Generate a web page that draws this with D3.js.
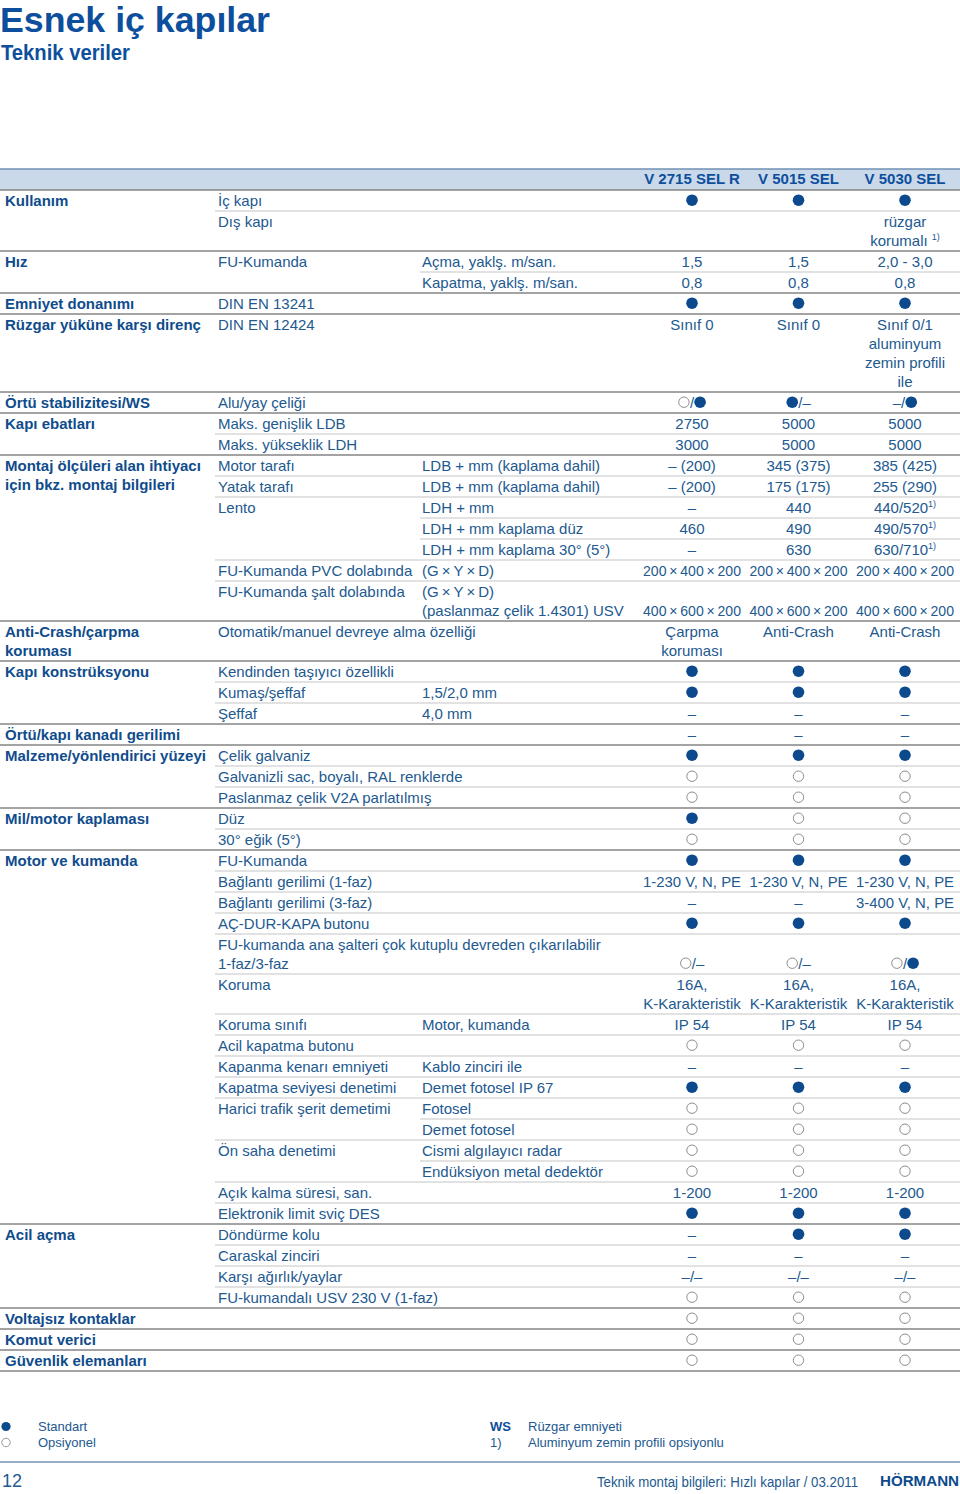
<!DOCTYPE html>
<html>
<head>
<meta charset="utf-8">
<script src="https://cdn.jsdelivr.net/npm/d3@7"></script>
<style>
body{margin:0;background:#fff}
svg{display:block}
</style>
</head>
<body>
<div id="chart"></div>
<script>
// table content, one entry per row
var models = ["V 2715 SEL R", "V 5015 SEL", "V 5030 SEL"];

var groups = [
"Kullanım", "", "Hız", "", "Emniyet donanımı", "Rüzgar yüküne karşı direnç",
"Örtü stabilizitesi/WS", "Kapı ebatları", "",
"Montaj ölçüleri alan ihtiyacı\niçin bkz. montaj bilgileri", "", "", "", "", "", "",
"Anti-Crash/çarpma\nkoruması", "Kapı konstrüksyonu", "", "", "Örtü/kapı kanadı gerilimi",
"Malzeme/yönlendirici yüzeyi", "", "", "Mil/motor kaplaması", "",
"Motor ve kumanda", "", "", "", "", "", "", "", "", "", "", "", "", "", "", "",
"Acil açma", "", "", "", "Voltajsız kontaklar", "Komut verici", "Güvenlik elemanları"];

var items = [
"İç kapı", "Dış kapı", "FU-Kumanda", "", "DIN EN 13241", "DIN EN 12424",
"Alu/yay çeliği", "Maks. genişlik LDB", "Maks. yükseklik LDH",
"Motor tarafı", "Yatak tarafı", "Lento", "", "", "FU-Kumanda PVC dolabında", "FU-Kumanda şalt dolabında",
"Otomatik/manuel devreye alma özelliği", "Kendinden taşıyıcı özellikli", "Kumaş/şeffaf", "Şeffaf", "",
"Çelik galvaniz", "Galvanizli sac, boyalı, RAL renklerde", "Paslanmaz çelik V2A parlatılmış", "Düz", "30° eğik (5°)",
"FU-Kumanda", "Bağlantı gerilimi (1-faz)", "Bağlantı gerilimi (3-faz)", "AÇ-DUR-KAPA butonu",
"FU-kumanda ana şalteri çok kutuplu devreden çıkarılabilir\n1-faz/3-faz", "Koruma", "Koruma sınıfı",
"Acil kapatma butonu", "Kapanma kenarı emniyeti", "Kapatma seviyesi denetimi", "Harici trafik şerit demetimi", "",
"Ön saha denetimi", "", "Açık kalma süresi, san.", "Elektronik limit sviç DES",
"Döndürme kolu", "Caraskal zinciri", "Karşı ağırlık/yaylar", "FU-kumandalı USV 230 V (1-faz)", "", "", ""];

var details = [
"", "", "Açma, yaklş. m/san.", "Kapatma, yaklş. m/san.", "", "",
"", "", "",
"LDB + mm (kaplama dahil)", "LDB + mm (kaplama dahil)", "LDH + mm", "LDH + mm kaplama düz", "LDH + mm kaplama 30° (5°)",
"(G\u2009×\u2009Y\u2009×\u2009D)", "(G\u2009×\u2009Y\u2009×\u2009D)\n(paslanmaz çelik 1.4301) USV",
"", "", "1,5/2,0 mm", "4,0 mm", "",
"", "", "", "", "",
"", "", "", "", "", "", "Motor, kumanda",
"", "Kablo zinciri ile", "Demet fotosel IP 67", "Fotosel", "Demet fotosel",
"Cismi algılayıcı radar", "Endüksiyon metal dedektör", "", "",
"", "", "", "", "", "", ""];

var v2715 = [
"●", "", "1,5", "0,8", "●", "Sınıf 0", "○/●", "2750", "3000",
"– (200)", "– (200)", "–", "460", "–", "200\u2009×\u2009400\u2009×\u2009200", "\n400\u2009×\u2009600\u2009×\u2009200",
"Çarpma\nkoruması", "●", "●", "–", "–", "●", "○", "○", "●", "○",
"●", "1-230 V, N, PE", "–", "●", "\n○/–", "16A,\nK-Karakteristik", "IP 54",
"○", "–", "●", "○", "○", "○", "○", "1-200", "●",
"–", "–", "–/–", "○", "○", "○", "○"];

var v5015 = [
"●", "", "1,5", "0,8", "●", "Sınıf 0", "●/–", "5000", "5000",
"345 (375)", "175 (175)", "440", "490", "630", "200\u2009×\u2009400\u2009×\u2009200", "\n400\u2009×\u2009600\u2009×\u2009200",
"Anti-Crash", "●", "●", "–", "–", "●", "○", "○", "○", "○",
"●", "1-230 V, N, PE", "–", "●", "\n○/–", "16A,\nK-Karakteristik", "IP 54",
"○", "–", "●", "○", "○", "○", "○", "1-200", "●",
"●", "–", "–/–", "○", "○", "○", "○"];

var v5030 = [
"●", "rüzgar\nkorumalı ^1)", "2,0 - 3,0", "0,8", "●", "Sınıf 0/1\naluminyum\nzemin profili\nile", "–/●", "5000", "5000",
"385 (425)", "255 (290)", "440/520^1)", "490/570^1)", "630/710^1)", "200\u2009×\u2009400\u2009×\u2009200", "\n400\u2009×\u2009600\u2009×\u2009200",
"Anti-Crash", "●", "●", "–", "–", "●", "○", "○", "○", "○",
"●", "1-230 V, N, PE", "3-400 V, N, PE", "●", "\n○/●", "16A,\nK-Karakteristik", "IP 54",
"○", "–", "●", "○", "○", "○", "○", "1-200", "●",
"●", "–", "–/–", "○", "○", "○", "○"];

var legendKeys = ["●", "○"];
var legendLabels = ["Standart", "Opsiyonel"];
var noteKeys = ["WS", "1)"];
var noteLabels = ["Rüzgar emniyeti", "Aluminyum zemin profili opsiyonlu"];

var width = 960, height = 1494;
var blue = "#0d4f9c", textBlue = "#22598f", dotBlue = "#0c4a8d";
var font = "'Liberation Sans', Arial, Helvetica, sans-serif";

var svg = d3.select("#chart").append("svg")
    .attr("width", width).attr("height", height)
    .style("font-family", font);

// title
svg.append("text").attr("x", 0).attr("y", 32)
   .attr("font-size", 35).attr("font-weight", "bold").attr("fill", blue)
   .attr("textLength", 270).attr("lengthAdjust", "spacingAndGlyphs")
   .text("Esnek iç kapılar");
svg.append("text").attr("x", 1).attr("y", 60)
   .attr("font-size", 22).attr("font-weight", "bold").attr("fill", blue)
   .attr("textLength", 129).attr("lengthAdjust", "spacingAndGlyphs")
   .text("Teknik veriler");

var rows = groups.map(function(g, i){
    return {group: g, item: items[i], detail: details[i], vals: [v2715[i], v5015[i], v5030[i]]};
});
rows.forEach(function(r){
    r.n = d3.max([r.item, r.detail].concat(r.vals), function(s){ return s.split("\n").length; });
    r.h = 21 + 19 * (r.n - 1);
});
var acc = 0;
rows.forEach(function(r){ r.y0 = acc; acc += r.h; });

var y = d3.scaleLinear().domain([0, acc]).range([190, 1371]);
var colX = d3.scaleOrdinal().domain(["group", "item", "detail"]).range([5, 218, 422]);
var valX = d3.scalePoint().domain(models).range([692, 905]);

// header band
svg.append("rect").attr("x", 0).attr("y", 169).attr("width", width).attr("height", y(0) - 169)
   .attr("fill", "#c9d9ea");
svg.append("line").attr("x1", 0).attr("x2", width).attr("y1", 169).attr("y2", 169)
   .attr("stroke", "#6f8fb3").attr("stroke-width", 1.5);
svg.selectAll(".model").data(models).enter().append("text")
   .attr("x", function(d){ return valX(d); }).attr("y", 184)
   .attr("text-anchor", "middle").attr("font-size", 15).attr("font-weight", "bold")
   .attr("fill", blue).text(function(d){ return d; });

// separators
var grid = svg.append("g");
rows.forEach(function(r, i){
    var yy = y(r.y0);
    var major = r.group || i === 0;
    var x0 = major ? 0 : (r.item ? 215 : 420);
    grid.append("line").attr("x1", x0).attr("x2", width).attr("y1", yy).attr("y2", yy)
        .attr("stroke", major ? "#858585" : "#c6c6c6").attr("stroke-width", major ? 1.6 : 1.2);
});
grid.append("line").attr("x1", 0).attr("x2", width).attr("y1", y(acc)).attr("y2", y(acc))
    .attr("stroke", "#858585").attr("stroke-width", 1.6);

function drawLine(sel, line, x, base, anchor, bold, maxW){
    if (!line) return;
    if (/[●○]/.test(line)) {
        var g = sel.append("g");
        var cx = 0;
        Array.from(line).forEach(function(ch){
            if (ch === "●") {
                g.append("circle").attr("cx", cx + 6).attr("cy", base - 5.3).attr("r", 5.8).attr("fill", dotBlue);
                cx += 12;
            } else if (ch === "○") {
                g.append("circle").attr("cx", cx + 6).attr("cy", base - 5.3).attr("r", 5.2)
                 .attr("fill", "none").attr("stroke", "#8e8e8e").attr("stroke-width", 1);
                cx += 12;
            } else {
                var t = g.append("text").attr("x", cx).attr("y", base).attr("font-size", 15)
                         .attr("fill", textBlue).text(ch);
                cx += t.node().getComputedTextLength();
            }
        });
        g.attr("transform", "translate(" + (anchor === "middle" ? x - cx / 2 : x) + ",0)");
        return;
    }
    var parts = line.split("^");
    var t = sel.append("text").attr("x", x).attr("y", base).attr("text-anchor", anchor)
        .attr("font-size", 15).attr("font-weight", bold ? "bold" : "normal")
        .attr("fill", bold ? "#0f4c8c" : textBlue);
    t.append("tspan").text(parts[0]);
    if (parts[1]) t.append("tspan").attr("font-size", 9).attr("dy", -6).text(parts[1]);
    if (maxW && t.node().getComputedTextLength() > maxW) {
        t.attr("textLength", maxW).attr("lengthAdjust", "spacingAndGlyphs");
    }
}

function drawCell(sel, str, x, top, anchor, bold, maxW){
    str.split("\n").forEach(function(line, k){
        drawLine(sel, line, x, top + 15.5 + 19 * k, anchor, bold, maxW);
    });
}

var body = svg.append("g");
rows.forEach(function(r){
    var top = y(r.y0);
    drawCell(body, r.group, colX("group"), top, "start", true);
    drawCell(body, r.item, colX("item"), top, "start", false);
    drawCell(body, r.detail, colX("detail"), top, "start", false);
    r.vals.forEach(function(v, j){
        drawCell(body, v, valX(models[j]), top, "middle", false, 98);
    });
});

// legend
var leg = svg.append("g").attr("font-size", 13).attr("fill", textBlue);
legendKeys.forEach(function(k, i){
    var yy = 1431 + i * 16;
    if (k === "●") leg.append("circle").attr("cx", 6).attr("cy", yy - 4.5).attr("r", 4.6).attr("fill", dotBlue);
    else leg.append("circle").attr("cx", 6).attr("cy", yy - 4.5).attr("r", 4.2).attr("fill", "none")
            .attr("stroke", "#999").attr("stroke-width", 1);
    leg.append("text").attr("x", 38).attr("y", yy).text(legendLabels[i]);
});
noteKeys.forEach(function(k, i){
    var yy = 1431 + i * 16;
    leg.append("text").attr("x", 490).attr("y", yy).attr("font-weight", k === "WS" ? "bold" : "normal")
       .attr("fill", k === "WS" ? blue : textBlue).text(k);
    leg.append("text").attr("x", 528).attr("y", yy).text(noteLabels[i]);
});

// footer
svg.append("line").attr("x1", 0).attr("x2", width).attr("y1", 1462).attr("y2", 1462)
   .attr("stroke", "#7692b3").attr("stroke-width", 1.5);
svg.append("text").attr("x", 2).attr("y", 1487).attr("font-size", 18).attr("fill", textBlue).text("12");
svg.append("text").attr("x", 597).attr("y", 1487).attr("font-size", 14)
   .attr("textLength", 261).attr("lengthAdjust", "spacingAndGlyphs")
   .attr("fill", textBlue).text("Teknik montaj bilgileri: Hızlı kapılar / 03.2011");
svg.append("text").attr("x", 880).attr("y", 1486).attr("font-size", 15).attr("font-weight", "bold")
   .attr("fill", dotBlue).attr("textLength", 79).attr("lengthAdjust", "spacingAndGlyphs").text("HÖRMANN");
</script>
</body>
</html>
